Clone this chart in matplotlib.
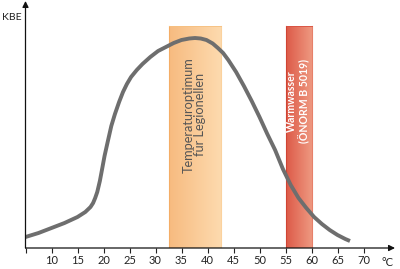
import numpy as np
import matplotlib
matplotlib.use("Agg")
import matplotlib.pyplot as plt
from matplotlib.colors import LinearSegmentedColormap

# Data
temps = [5, 7.5, 10, 12.5, 15, 16.5, 17.5, 18.0, 18.4, 18.8, 19.3, 19.7, 20.2, 20.8, 21.5,
         22.2, 23.0, 23.75, 24.5, 25.3, 26.4, 27.5, 29, 30.5, 32, 33.5, 35, 36.5, 37.6,
         38.7, 39.8, 41, 42.0, 43.0, 44, 45.5, 47, 48.5, 50, 51.5, 53, 54.5, 56,
         57.5, 59, 60.5, 62, 63.5, 65, 66.5, 67.4]
kbe = [11, 15, 20, 25, 31, 36, 41, 45, 50, 56, 67, 78, 92, 106, 122,
       134, 146, 156, 164, 171, 178, 184, 191, 197, 201, 205, 208, 209.5, 210,
       209.5, 208, 204.5, 200, 195, 188, 176, 162, 147, 131, 114, 98, 79, 63,
       50, 40, 31, 24, 18, 13, 9, 7]
optimum_band = (32.5, 42.5)
warm_band = (55, 60)
band_top = 222
x_ticks = [5, 10, 15, 20, 25, 30, 35, 40, 45, 50, 55, 60, 65, 70]
x_tick_labels = ["", "10", "15", "20", "25", "30", "35", "40", "45", "50", "55", "60", "65", "70"]
optimum_label = "Temperaturoptimum\nfür Legionellen"
warm_label = "Warmwasser\n(ÖNORM B 5019)"

plt.rcParams['font.family'] = ['Lato', 'DejaVu Sans']

fig = plt.figure(figsize=(4.0, 2.69), dpi=100)
ax = fig.add_axes([25.5/400, 21/269, 369.5/400, 247/269])
ax.set_xlim(5, 5 + 369.5/5.2)
ax.set_ylim(0, 247)

grad = np.linspace(0, 1, 64).reshape(1, -1)
cm_orange = LinearSegmentedColormap.from_list("o", ["#f7bb80", "#fddaae"])
cm_red = LinearSegmentedColormap.from_list("r", ["#dd5a48", "#ee9880"])
ax.imshow(grad, extent=[optimum_band[0], optimum_band[1], 0, band_top], aspect='auto',
          cmap=cm_orange, zorder=1, interpolation='bilinear')
ax.imshow(grad, extent=[warm_band[0], warm_band[1], 0, band_top], aspect='auto',
          cmap=cm_red, zorder=1, interpolation='bilinear')
ax.plot([optimum_band[0]]*2, [0, band_top], color="#f4ad66", lw=0.8, zorder=2)
ax.plot([optimum_band[1]]*2, [0, band_top], color="#fbd29e", lw=0.8, zorder=2)
ax.plot([warm_band[0]]*2, [0, band_top], color="#cf4434", lw=0.8, zorder=2)
ax.plot([warm_band[1]]*2, [0, band_top], color="#e7806a", lw=0.8, zorder=2)
ax.plot(list(optimum_band), [band_top]*2, color="#f6c080", lw=0.6, zorder=2)
ax.plot(list(warm_band), [band_top]*2, color="#d85040", lw=0.6, zorder=2)

ax.text(sum(optimum_band)/2, 191, optimum_label, rotation=90, ha='center', va='top',
        fontsize=9.2, color="#555555", linespacing=1.0, zorder=3)
ax.text(sum(warm_band)/2, 189, warm_label, rotation=90, ha='center', va='top',
        fontsize=7.6, color="white", fontweight='bold', linespacing=1.15, zorder=3)

ax.plot(temps, kbe, color="#6e6e6e", lw=2.8, solid_capstyle='butt',
        solid_joinstyle='round', zorder=4)

for s in ax.spines.values():
    s.set_visible(False)
ax.set_xticks(x_ticks)
ax.set_xticklabels(x_tick_labels, fontsize=8, color="#222222")
ax.tick_params(axis='x', direction='out', length=3.5, width=0.8, color="#222222", pad=1.5)
ax.set_yticks([])

ax.annotate("", xy=(1, 0), xytext=(0, 0), xycoords='axes fraction',
            arrowprops=dict(arrowstyle='-|>', color="#111111", lw=0.9,
                            mutation_scale=9, shrinkA=0, shrinkB=0), zorder=5)
ax.annotate("", xy=(0, 1), xytext=(0, 0), xycoords='axes fraction',
            arrowprops=dict(arrowstyle='-|>', color="#111111", lw=0.9,
                            mutation_scale=9, shrinkA=0, shrinkB=0), zorder=5)

fig.text(2/400, 1 - 18/269, "KBE", ha='left', va='center', fontsize=7.5, color="#222222")
fig.text(387/400, 1 - 262/269, "°C", ha='center', va='center', fontsize=8, color="#222222")

fig.savefig("out.png", dpi=100)
